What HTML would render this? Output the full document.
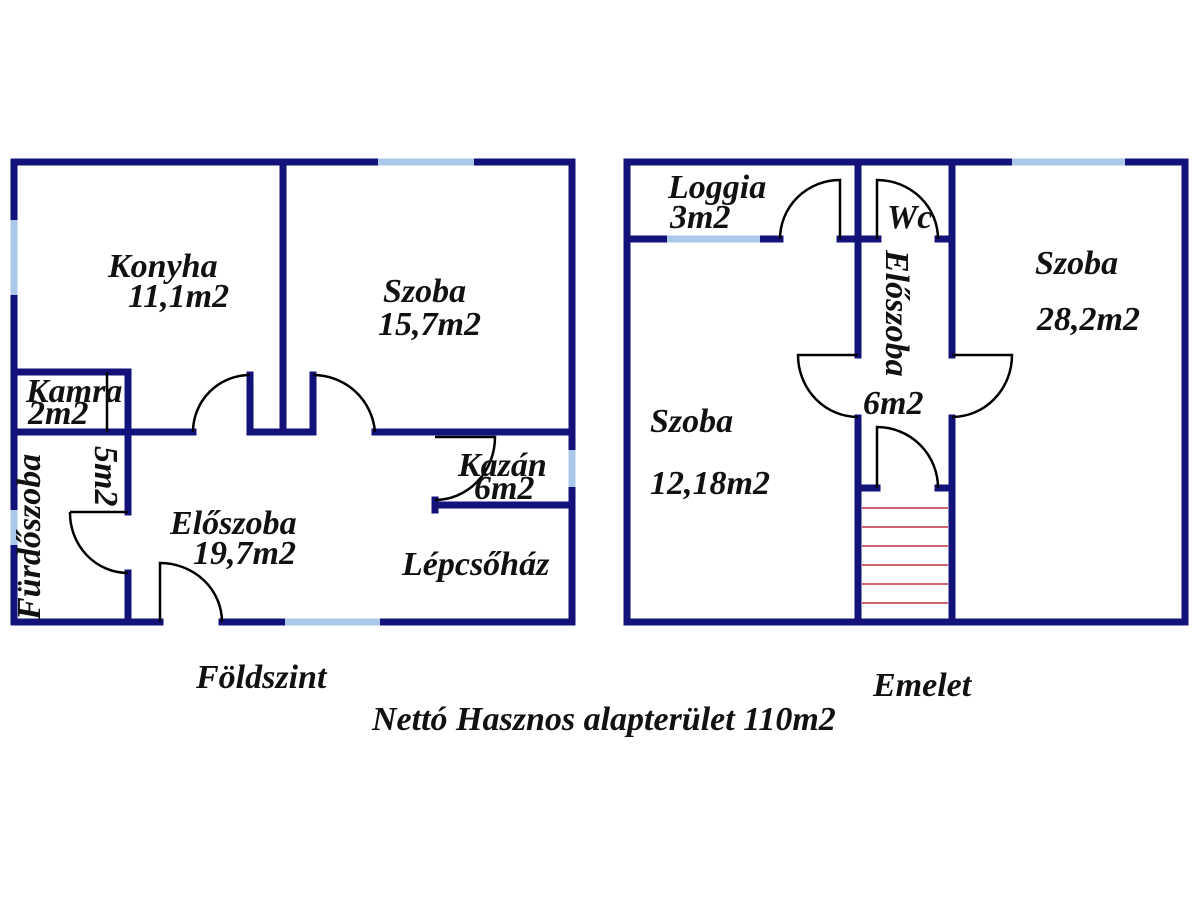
<!DOCTYPE html>
<html><head><style>body{margin:0;background:#fff}svg{display:block}
text{font-family:"Liberation Serif",serif;font-style:italic;font-weight:bold;fill:#111;font-size:34px}</style></head>
<body>
<svg width="1200" height="900" viewBox="0 0 1200 900" xmlns="http://www.w3.org/2000/svg">
<g stroke="#12127a" stroke-width="7" fill="none" stroke-linecap="square">
<path d="M160 622 H14 V162 H572 V622 H222"/>
<path d="M283 162 V432"/>
<path d="M14 432 H193 M250 432 V375 M250 432 H313 M313 432 V375 M375 432 H572"/>
<path d="M14 372 H128 V512 M128 573 V622"/>
<path d="M435 505 H572 M435 500 V510"/>
<path d="M627 162 H1185 V622 H627 Z"/>
<path d="M627 239 H780 M840 239 H878 M938 239 H952"/>
<path d="M858 162 V355 M858 418 V622 M952 162 V355 M952 418 V622"/>
<path d="M858 488 H877 M938 488 H952"/>
</g>
<g stroke="#a9c8ea" stroke-width="7">
<path d="M378 162 H474 M285 622 H380 M14 220 V295 M14 510 V545 M572 450 V487"/>
<path d="M1012 162 H1125 M667 239 H760"/>
</g>
<g stroke="#000" stroke-width="2.5" fill="none">
<path d="M193 432 A57 57 0 0 1 250 375"/>
<path d="M313 375 A62 62 0 0 1 375 432"/>
<path d="M107 372 V432"/>
<path d="M70 512 H128 M70 512 A58 60 0 0 0 128 573"/>
<path d="M160 622 V563 A62 59 0 0 1 222 622"/>
<path d="M435 437 H495 A60 63 0 0 1 435 500"/>
<path d="M840 239 V180 A60 59 0 0 0 780 239"/>
<path d="M877 239 V180 A61 59 0 0 1 938 239"/>
<path d="M858 355 H798 A60 62 0 0 0 858 417"/>
<path d="M952 355 H1012 A60 62 0 0 1 952 417"/>
<path d="M877 488 V427 A61 61 0 0 1 938 488"/>
</g>
<g stroke="#c23040" stroke-width="1.5">
<path d="M862 508 H948 M862 527 H948 M862 546 H948 M862 565 H948 M862 584 H948 M862 603 H948"/>
</g>
<text x="108" y="277" font-size="30">Konyha</text>
<text x="128" y="307" font-size="30">11,1m2</text>
<text x="383" y="302" font-size="30">Szoba</text>
<text x="378" y="335" font-size="30">15,7m2</text>
<text x="26" y="402" font-size="28">Kamra</text>
<text x="28" y="424" font-size="28">2m2</text>
<text x="170" y="534" font-size="30">Előszoba</text>
<text x="193" y="564" font-size="30">19,7m2</text>
<text x="458" y="476" font-size="28">Kazán</text>
<text x="474" y="499" font-size="28">6m2</text>
<text x="402" y="575" font-size="28">Lépcsőház</text>
<text transform="translate(40,620) rotate(-90)" font-size="28">Fürdőszoba</text>
<text transform="translate(95,446) rotate(90)" font-size="28">5m2</text>
<text x="196" y="688" font-size="28">Földszint</text>
<text x="668" y="198" font-size="28">Loggia</text>
<text x="670" y="228" font-size="28">3m2</text>
<text x="887" y="228" font-size="26">Wc</text>
<text transform="translate(886,250) rotate(90)" font-size="30">Előszoba</text>
<text x="863" y="414" font-size="28">6m2</text>
<text x="650" y="432" font-size="28">Szoba</text>
<text x="650" y="494" font-size="28">12,18m2</text>
<text x="1035" y="274" font-size="28">Szoba</text>
<text x="1037" y="330" font-size="28">28,2m2</text>
<text x="873" y="696" font-size="28">Emelet</text>
<text x="372" y="730" font-size="30">Nettó Hasznos alapterület 110m2</text>
</svg>
</body></html>
